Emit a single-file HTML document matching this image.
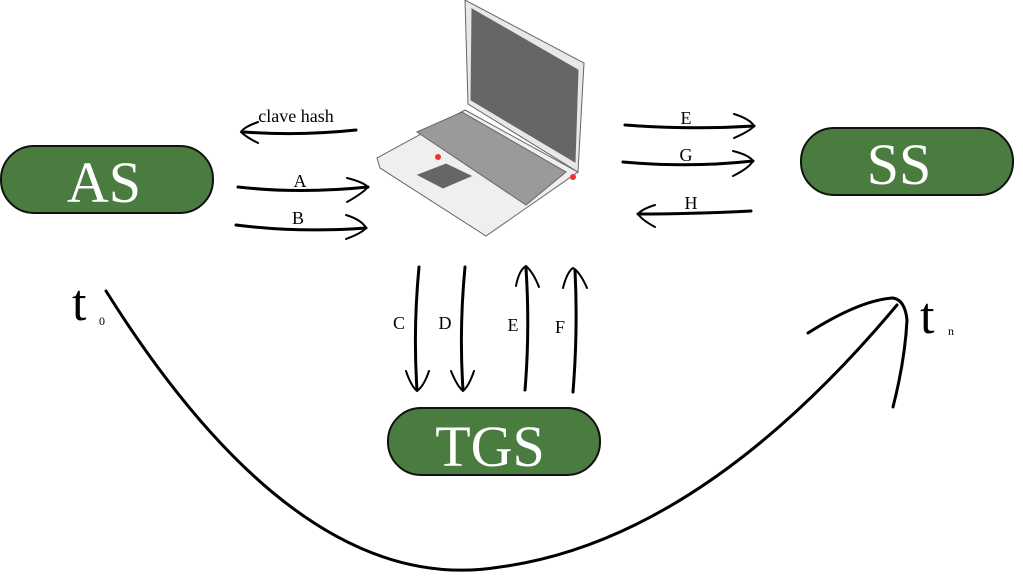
<!DOCTYPE html>
<html><head><meta charset="utf-8"><style>
html,body{margin:0;padding:0;background:#fff;}
svg{display:block;}
text{font-family:"Liberation Serif",serif;}
</style></head><body>
<svg width="1023" height="586" viewBox="0 0 1023 586" xmlns="http://www.w3.org/2000/svg">
<rect x="1" y="146" width="212" height="67" rx="33" fill="#4a7c3f" stroke="#111" stroke-width="2"/>
<text x="104" y="202" font-size="58" fill="#fff" text-anchor="middle">AS</text>
<rect x="801" y="128" width="212" height="67" rx="33" fill="#4a7c3f" stroke="#111" stroke-width="2"/>
<text x="899" y="184" font-size="58" fill="#fff" text-anchor="middle">SS</text>
<rect x="388" y="408" width="212" height="67" rx="33" fill="#4a7c3f" stroke="#111" stroke-width="2"/>
<text x="490" y="466" font-size="58" fill="#fff" text-anchor="middle">TGS</text>

<g stroke="#666" stroke-width="1">
<polygon points="465,0 584,63 578,172 468,104" fill="#e8e8e8"/>
<polygon points="472,9 578,70 575,162 471,100" fill="#666"/>
<polygon points="377,158 465,110 578,172 486,236 380,168" fill="#efefef"/>
<polygon points="417,132 462,112 566,172 526,205" fill="#9a9a9a"/>
<polygon points="418,175 446,164 471,176 443,188" fill="#666"/>
</g>
<circle cx="438" cy="157" r="3" fill="#e33"/>
<circle cx="573" cy="177" r="3" fill="#e33"/>

<g fill="none" stroke="#000" stroke-width="3" stroke-linecap="round">
<path d="M356,130 Q300,136 244,132"/>
<path d="M258,122 Q244,127 241,132 Q246,137 258,143" stroke-width="2"/>
<path d="M238,187 Q300,194 368,187"/>
<path d="M347,178 Q363,182 368,187 Q363,193 347,202" stroke-width="2"/>
<path d="M236,225 Q300,233 366,228"/>
<path d="M346,215 Q362,220 366,228 Q362,233 346,239" stroke-width="2"/>
<path d="M625,125 Q690,130 754,126"/>
<path d="M734,114 Q750,119 754,126 Q750,131 734,138" stroke-width="2"/>
<path d="M623,162 Q690,168 753,161"/>
<path d="M733,151 Q749,155 753,161 Q749,168 733,176" stroke-width="2"/>
<path d="M751,211 Q690,214 638,214"/>
<path d="M655,205 Q642,209 638,214 Q642,220 655,227" stroke-width="2"/>
<path d="M419,267 Q413,330 417,390"/>
<path d="M406,371 Q411,386 417,391 Q424,386 429,371" stroke-width="2"/>
<path d="M465,267 Q459,330 463,390"/>
<path d="M451,371 Q457,386 463,391 Q469,386 474,371" stroke-width="2"/>
<path d="M525,390 Q530,330 526,268"/>
<path d="M516,286 Q519,270 526,266 Q533,272 539,287" stroke-width="2"/>
<path d="M573,392 Q578,330 575,270"/>
<path d="M563,288 Q567,272 573,268 Q580,272 587,288" stroke-width="2"/>
<path d="M106,291 Q300,600 500,567 Q700,540 897,305"/>
<path d="M808,333 Q860,300 893,298 Q905,300 907,320 Q905,360 893,407"/>
</g>

<g font-size="18" text-anchor="middle" fill="#000">
<text x="296" y="122">clave hash</text>
<text x="300" y="187">A</text>
<text x="298" y="224">B</text>
<text x="686" y="124">E</text>
<text x="686" y="161">G</text>
<text x="691" y="209">H</text>
<text x="399" y="329">C</text>
<text x="445" y="329">D</text>
<text x="513" y="331">E</text>
<text x="560" y="333">F</text>
</g>
<text x="72" y="320" font-size="52">t</text>
<text x="99" y="325" font-size="12">0</text>
<text x="920" y="333" font-size="52">t</text>
<text x="948" y="335" font-size="12">n</text>
</svg>
</body></html>
